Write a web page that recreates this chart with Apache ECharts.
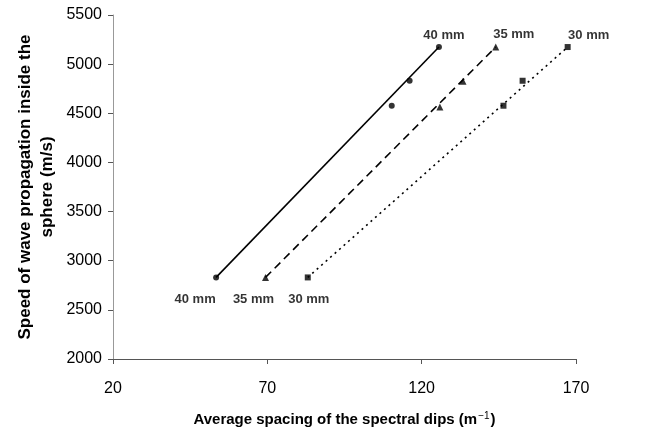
<!DOCTYPE html>
<html>
<head>
<meta charset="utf-8">
<script src="https://cdn.jsdelivr.net/npm/echarts@6/dist/echarts.min.js"></script>
<style>
  html, body { margin: 0; padding: 0; background: #fff; }
  #chart { width: 667px; height: 438px; }
</style>
</head>
<body>
<div id="chart"></div>
<script>
// Measured points: [average spacing of spectral dips (1/m), wave speed (m/s)]
const sphere40 = [[53.4, 2830], [110.3, 4577], [116.1, 4831], [125.6, 5174]];
const sphere35 = [[69.4, 2830], [125.9, 4564], [133.4, 4825], [144.0, 5174]];
const sphere30 = [[83.1, 2830], [146.5, 4577], [152.7, 4831], [167.3, 5174]];
const seriesNames = ['40 mm', '35 mm', '30 mm'];
const xTicks = [20, 70, 120, 170];
const yTicks = [2000, 2500, 3000, 3500, 4000, 4500, 5000, 5500];

const FONT = '"Liberation Sans", Arial, Helvetica, sans-serif';

// label offsets for the first (bottom) and last (top) point of each set
const labelOffsets = [
  { bottom: [-21, 22], top: [5, -12] },
  { bottom: [-12, 22], top: [18, -13] },
  { bottom: [1, 22], top: [21, -12] }
];
const symbols = ['circle', 'triangle', 'rect'];
const symbolSizes = [6, 7, 6];
const lineTypes = ['solid', [8, 5], [2, 4]];

function withLabels(points, name, offs) {
  return points.map((p, i) => {
    const last = points.length - 1;
    if (i === 0 || i === last) {
      return {
        value: p,
        label: {
          show: true,
          formatter: name,
          position: 'inside',
          offset: i === 0 ? offs.bottom : offs.top,
          color: '#000',
          fontFamily: FONT,
          fontWeight: 'bold',
          fontSize: 13
        }
      };
    }
    return { value: p };
  });
}

const sets = [sphere40, sphere35, sphere30];
const series = [];
sets.forEach((pts, k) => {
  // straight line through the lowest and highest measurement
  series.push({
    name: seriesNames[k] + ' line',
    type: 'line',
    data: [pts[0], pts[pts.length - 1]],
    showSymbol: false,
    silent: true,
    lineStyle: { color: '#000', width: 1.6, type: lineTypes[k] },
    z: 2
  });
  series.push({
    name: seriesNames[k],
    type: 'scatter',
    data: withLabels(pts, seriesNames[k], labelOffsets[k]),
    symbol: symbols[k],
    symbolSize: symbolSizes[k],
    itemStyle: { color: '#000' },
    z: 3
  });
});

const chart = echarts.init(document.getElementById('chart'), null, { renderer: 'canvas' });
chart.setOption({
  animation: false,
  backgroundColor: '#fff',
  textStyle: { fontFamily: FONT },
  grid: { left: 113, right: 91, top: 15, bottom: 79, containLabel: false, outerBoundsMode: 'none' },
  xAxis: {
    type: 'value',
    min: xTicks[0],
    max: xTicks[xTicks.length - 1],
    interval: xTicks[1] - xTicks[0],
    name: '{a|Average spacing of the spectral dips (m}{s|−1}{a|)}',
    nameLocation: 'middle',
    nameGap: 52,
    nameTextStyle: {
      rich: {
        a: { fontFamily: FONT, fontWeight: 'bold', fontSize: 15, color: '#000', lineHeight: 18 },
        s: { fontFamily: FONT, fontSize: 10, color: '#000', lineHeight: 18, verticalAlign: 'top', padding: [0, 1, 0, 1] }
      }
    },
    axisLine: { lineStyle: { color: '#555', width: 1 } },
    axisTick: { show: true, length: 5, lineStyle: { color: '#555' } },
    axisLabel: { color: '#000', fontSize: 16, fontFamily: FONT, margin: 22, formatter: v => String(v) },
    splitLine: { show: false }
  },
  yAxis: {
    type: 'value',
    min: yTicks[0],
    max: yTicks[yTicks.length - 1],
    interval: yTicks[1] - yTicks[0],
    name: 'Speed of wave propagation inside the\nsphere (m/s)',
    nameLocation: 'middle',
    nameGap: 55,
    nameMoveOverlap: false,
    nameTextStyle: { fontFamily: FONT, fontWeight: 'bold', fontSize: 17, color: '#000', lineHeight: 22 },
    axisLine: { show: true, lineStyle: { color: '#999', width: 1 } },
    axisTick: { show: true, length: 5, lineStyle: { color: '#555' } },
    axisLabel: { color: '#000', fontSize: 16, fontFamily: FONT, margin: 11, formatter: v => String(v) },
    splitLine: { show: false }
  },
  series: series
});
</script>
</body>
</html>
